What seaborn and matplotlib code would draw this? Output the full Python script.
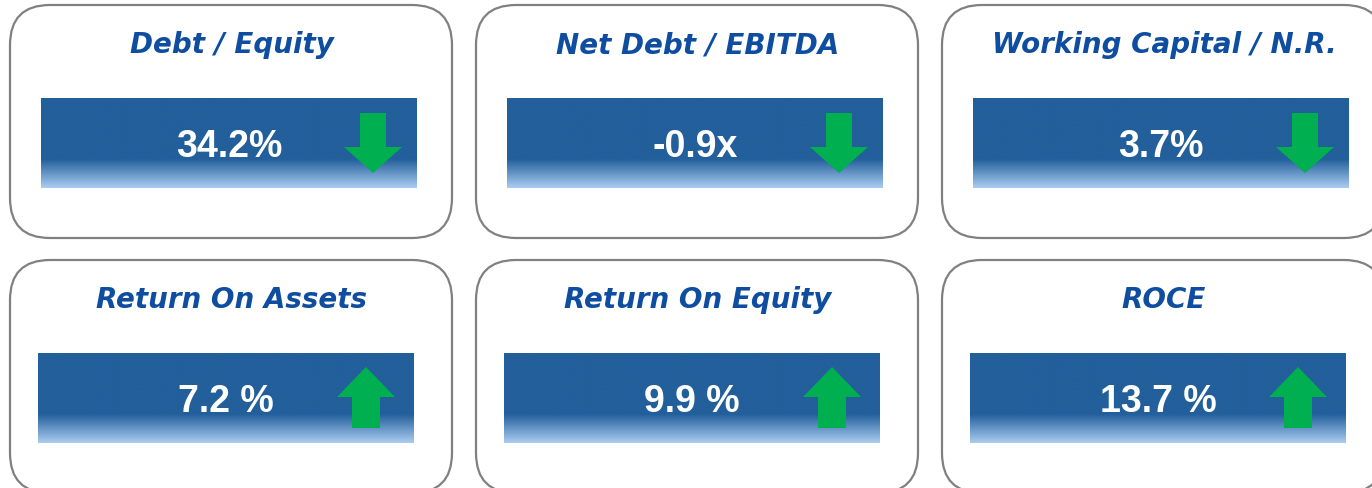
import numpy as np
import matplotlib.pyplot as plt
import seaborn as sns
from matplotlib.patches import FancyBboxPatch, Polygon
from matplotlib.colors import to_rgb

titles = ["Debt / Equity", "Net Debt / EBITDA", "Working Capital / N.R.",
          "Return On Assets", "Return On Equity", "ROCE"]
values = ["34.2%", "-0.9x", "3.7%", "7.2 %", "9.9 %", "13.7 %"]
trends = ["down", "down", "down", "up", "up", "up"]

sns.set_theme(style="white")

W, H = 1372, 489
fig = plt.figure(figsize=(W / 100, H / 100), dpi=100)
ax = fig.add_axes([0, 0, 1, 1])
ax.set_xlim(0, W)
ax.set_ylim(H, 0)
ax.axis("off")

title_color = "#0E4DA0"
bar_top = np.array(to_rgb("#225F9B"))
bar_bot = np.array(to_rgb("#AACBF0"))
green = "#00B050"

# gradient strip: solid for top 70%, fading to light blue at bottom
n = 100
t = np.clip((np.linspace(0, 1, n) - 0.68) / 0.32, 0, 1)
grad = bar_top[None, :] * (1 - t[:, None]) + bar_bot[None, :] * t[:, None]
grad = grad[:, None, :]

card_x = [10, 476, 942]
card_y = [6, 261]
card_w, card_h = 442, 233
row_shift = [0, -3]   # second row is nudged a bit left inside its cards

for i, (title, val, trend) in enumerate(zip(titles, values, trends)):
    r, c = divmod(i, 3)
    x0, y0 = card_x[c], card_y[r]
    ax.add_patch(FancyBboxPatch((x0, y0), card_w, card_h,
                                boxstyle="round,pad=0,rounding_size=40",
                                fc="white", ec="#808080", lw=1.6, zorder=1))
    cx = x0 + card_w / 2
    ax.text(cx + 1, y0 + 39, title, ha="center", va="center", color=title_color,
            fontsize=20, fontweight="bold", fontstyle="oblique",
            family="DejaVu Sans", zorder=3)

    s = row_shift[r]
    bx0, bx1 = x0 + 31 + s, x0 + 407 + s
    by0, by1 = y0 + 93, y0 + 183
    ax.imshow(grad, extent=[bx0, bx1, by1, by0], origin="upper", aspect="auto",
              interpolation="bilinear", zorder=2)

    ax.text(cx - 2 + s, y0 + 141, val, ha="center", va="center", color="white",
            fontsize=27, fontweight="bold", family="Liberation Sans", zorder=3)

    if trend == "down":
        ax_c = x0 + 363
        top, bot = y0 + 108, y0 + 168
        hb = top + 34
        pts = [(ax_c - 13, top), (ax_c + 13, top), (ax_c + 13, hb), (ax_c + 29, hb),
               (ax_c, bot), (ax_c - 29, hb), (ax_c - 13, hb)]
    else:
        ax_c = x0 + 356
        top, bot = y0 + 107, y0 + 168
        hb = top + 30
        pts = [(ax_c, top), (ax_c + 29, hb), (ax_c + 14, hb), (ax_c + 14, bot),
               (ax_c - 14, bot), (ax_c - 14, hb), (ax_c - 29, hb)]
    ax.add_patch(Polygon(pts, closed=True, fc=green, ec="none", zorder=3))

fig.savefig("out.png", dpi=100)
